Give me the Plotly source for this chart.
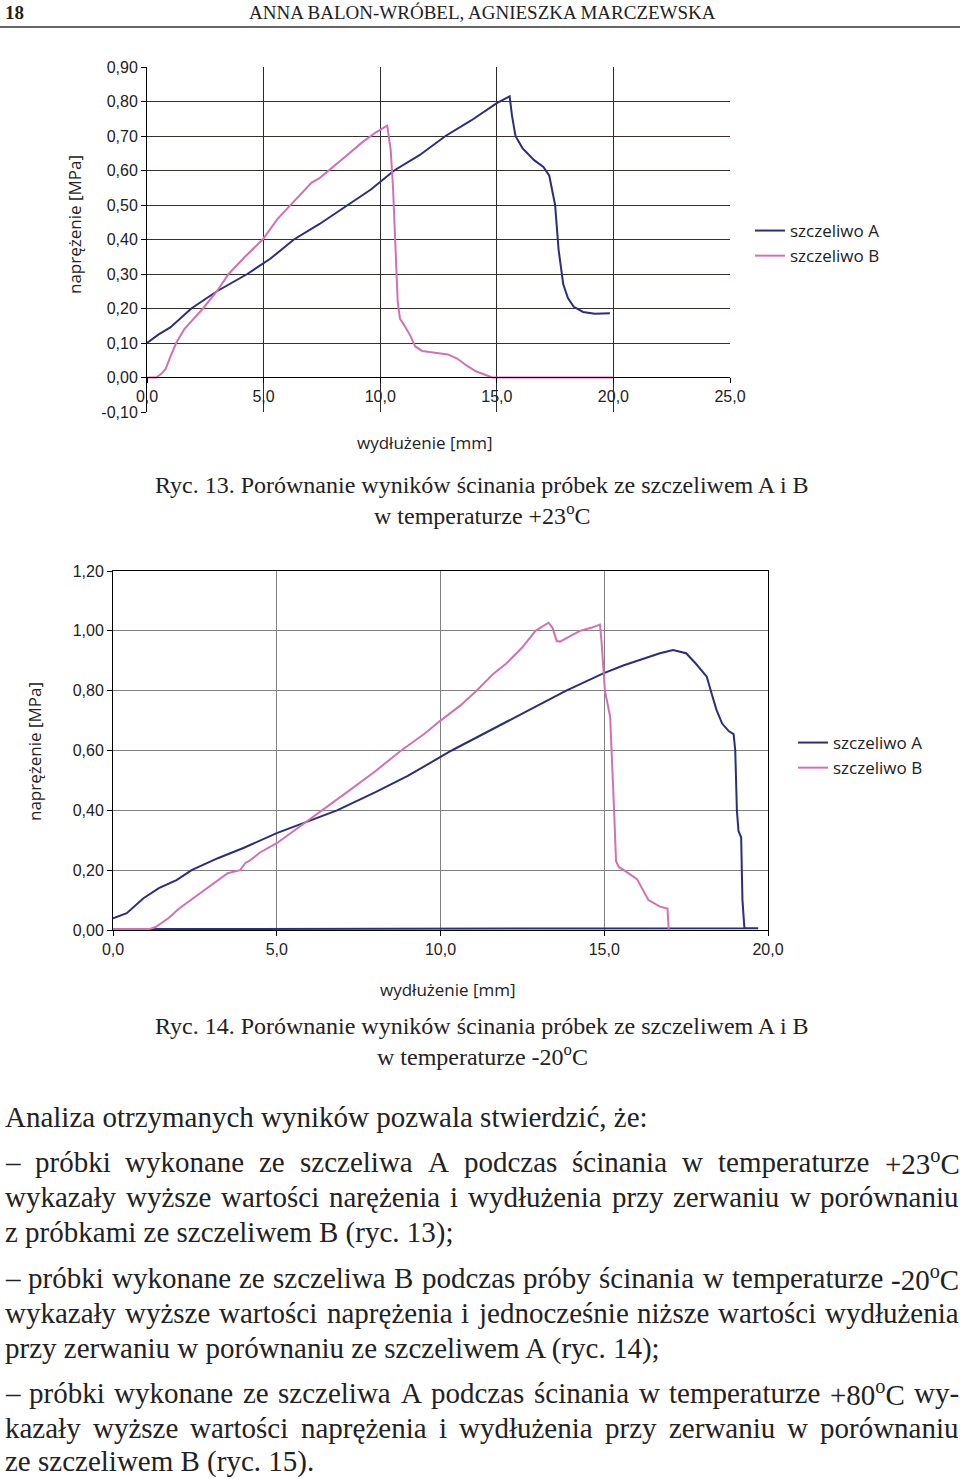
from plotly import graph_objects

# ---- data ----
series_names = ["szczeliwo A", "szczeliwo B"]

# Ryc. 13, +23 C
ryc13_x_a = [0.0, 0.5, 1.0, 1.9, 3.0, 4.3, 5.3, 6.3, 7.4, 8.6, 9.6, 10.6, 11.7, 12.8, 13.9, 15.0, 15.55,
             15.65, 15.8, 16.1, 16.6, 17.0, 17.25, 17.5, 17.65, 17.85, 18.05, 18.3, 18.7, 19.2, 19.85]
ryc13_y_a = [0.10, 0.125, 0.145, 0.20, 0.25, 0.30, 0.345, 0.40, 0.445, 0.50, 0.545, 0.60, 0.645, 0.70, 0.745,
             0.795, 0.815, 0.76, 0.70, 0.665, 0.63, 0.61, 0.585, 0.50, 0.37, 0.27, 0.23, 0.205, 0.19, 0.185, 0.186]
ryc13_x_b = [0.0, 0.4, 0.6, 0.8, 1.0, 1.25, 1.6, 2.0, 2.4, 3.0, 3.5, 4.2, 4.96, 5.6, 6.3, 7.06, 7.4, 7.8, 8.5,
             9.2, 9.8, 10.3, 10.45, 10.55, 10.65, 10.75, 10.85, 11.0, 11.3, 11.5, 11.8, 12.3, 12.9, 13.3, 13.7,
             14.1, 14.5, 14.8, 15.5, 20.0]
ryc13_y_b = [0.0, 0.0, 0.01, 0.025, 0.06, 0.10, 0.14, 0.17, 0.20, 0.25, 0.30, 0.35, 0.40, 0.46, 0.51, 0.565,
             0.578, 0.60, 0.64, 0.68, 0.71, 0.73, 0.66, 0.55, 0.38, 0.22, 0.17, 0.155, 0.12, 0.09, 0.077, 0.072,
             0.067, 0.055, 0.035, 0.018, 0.007, 0.0, 0.0, 0.0]

# Ryc. 14, -20 C
ryc14_x_a = [0.0, 0.42, 0.93, 1.4, 1.94, 2.4, 3.2, 4.0, 5.0, 6.0, 6.84, 8.0, 9.0, 10.34, 11.5, 12.7, 13.84,
             14.97, 15.6, 16.2, 16.7, 17.1, 17.5, 17.8, 18.13, 18.28, 18.43, 18.6, 18.8, 18.95, 19.0, 19.05,
             19.1, 19.18, 19.22, 19.28, 19.7, 0.0]
ryc14_y_a = [0.039, 0.056, 0.106, 0.14, 0.167, 0.20, 0.24, 0.275, 0.324, 0.365, 0.40, 0.46, 0.515, 0.60,
             0.665, 0.735, 0.80, 0.858, 0.885, 0.908, 0.925, 0.936, 0.925, 0.89, 0.847, 0.79, 0.735, 0.69,
             0.665, 0.655, 0.60, 0.40, 0.33, 0.31, 0.10, 0.006, 0.006, 0.003]
ryc14_x_b = [0.0, 1.1, 1.3, 1.7, 2.0, 2.5, 3.0, 3.5, 3.88, 4.05, 4.15, 4.5, 5.0, 5.7, 6.4, 7.2, 8.0, 8.8,
             9.5, 10.0, 10.6, 11.1, 11.6, 12.0, 12.5, 12.9, 13.3, 13.42, 13.55, 13.65, 14.0, 14.26, 14.6,
             14.87, 14.92, 14.97, 15.02, 15.18, 15.25, 15.3, 15.36, 15.45, 15.6, 16.0, 16.35, 16.7, 16.93, 16.97]
ryc14_y_b = [0.003, 0.003, 0.01, 0.04, 0.07, 0.11, 0.15, 0.19, 0.20, 0.225, 0.23, 0.26, 0.29, 0.345, 0.40,
             0.465, 0.53, 0.60, 0.655, 0.70, 0.75, 0.80, 0.855, 0.89, 0.945, 1.0, 1.027, 1.01, 0.966, 0.964,
             0.985, 1.0, 1.01, 1.021, 0.96, 0.86, 0.80, 0.713, 0.55, 0.40, 0.23, 0.21, 0.20, 0.17, 0.10,
             0.078, 0.072, 0.0]

ryc13_yticks = [-0.1, 0.0, 0.1, 0.2, 0.3, 0.4, 0.5, 0.6, 0.7, 0.8, 0.9]
ryc13_ylabels = ["-0,10", "0,00", "0,10", "0,20", "0,30", "0,40", "0,50", "0,60", "0,70", "0,80", "0,90"]
ryc13_xticks = [0, 5, 10, 15, 20, 25]
ryc13_xlabels = ["0,0", "5,0", "10,0", "15,0", "20,0", "25,0"]
ryc14_yticks = [0.0, 0.2, 0.4, 0.6, 0.8, 1.0, 1.2]
ryc14_ylabels = ["0,00", "0,20", "0,40", "0,60", "0,80", "1,00", "1,20"]
ryc14_xticks = [0, 5, 10, 15, 20]
ryc14_xlabels = ["0,0", "5,0", "10,0", "15,0", "20,0"]

body_lines = [
    ("Analiza otrzymanych wyników pozwala stwierdzić, że:", False),
    ("– próbki wykonane ze szczeliwa A podczas ścinania w temperaturze +23<sup>o</sup>C", True),
    ("wykazały wyższe wartości narężenia i wydłużenia przy zerwaniu w porównaniu", True),
    ("z próbkami ze szczeliwem B (ryc. 13);", False),
    ("– próbki wykonane ze szczeliwa B podczas próby ścinania w temperaturze -20<sup>o</sup>C", True),
    ("wykazały wyższe wartości naprężenia i jednocześnie niższe wartości wydłużenia", True),
    ("przy zerwaniu w porównaniu ze szczeliwem A (ryc. 14);", False),
    ("– próbki wykonane ze szczeliwa A podczas ścinania w temperaturze +80<sup>o</sup>C wy-", True),
    ("kazały wyższe wartości naprężenia i wydłużenia  przy zerwaniu w porównaniu", True),
    ("ze szczeliwem B (ryc. 15).", False),
]

W, H = 960, 1479
BLUE = "#2b2d7e"
PINK = "#d271b2"
SERIF = "Liberation Serif"
SANS = "Liberation Sans"
LABEL = "Open Sans"


def px(x):
    return x / W


def py(y):
    return 1 - y / H


# Times New Roman advance widths (Liberation Serif is metric compatible)
TIMES = {' ': 250, 'a': 444, 'b': 500, 'c': 444, 'd': 500, 'e': 444, 'f': 333, 'g': 500, 'h': 500,
         'i': 278, 'j': 278, 'k': 500, 'l': 278, 'm': 778, 'n': 500, 'o': 500, 'p': 500, 'q': 500,
         'r': 333, 's': 389, 't': 278, 'u': 500, 'v': 500, 'w': 722, 'x': 500, 'y': 500, 'z': 444,
         'ą': 444, 'ć': 444, 'ę': 444, 'ł': 278, 'ń': 500, 'ó': 500, 'ś': 389, 'ż': 444, 'ź': 444,
         'A': 722, 'B': 667, 'C': 667, '(': 333, ')': 333, '.': 250, ',': 250, ';': 278, ':': 278,
         '+': 564, '-': 333, '–': 500, '\u00b0': 330}


def word_width(word, size):
    word = word.replace("<sup>o</sup>", "\u00b0")
    return sum(TIMES.get(ch, 500) for ch in word) * size / 1000


def put_text(text, x, y, size, family=SERIF, xanchor="center", angle=0):
    fig.add_annotation(text=text, x=px(x), y=py(y), xref="paper", yref="paper", showarrow=False,
                       xanchor=xanchor, yanchor="middle", textangle=angle, borderpad=0,
                       font=dict(family=family, size=size, color="#222"))


fig = graph_objects.Figure()

# ---- the two charts ----
for xs, ys, name, color, ax, leg in [
    (ryc13_x_a, ryc13_y_a, series_names[0], BLUE, "", "legend"),
    (ryc13_x_b, ryc13_y_b, series_names[1], PINK, "", "legend"),
    (ryc14_x_a, ryc14_y_a, series_names[0], BLUE, "2", "legend2"),
    (ryc14_x_b, ryc14_y_b, series_names[1], PINK, "2", "legend2"),
]:
    fig.add_trace(graph_objects.Scatter(x=xs, y=ys, mode="lines", name=name, legend=leg,
                                        xaxis="x" + ax, yaxis="y" + ax,
                                        line=dict(color=color, width=2)))

tick_font = dict(family=SANS, size=16, color="#222")
axis_common = dict(tickfont=tick_font, showgrid=True, gridwidth=1, zeroline=False, automargin=False,
                   showline=True, linecolor="black", ticks="outside", ticklen=5, tickcolor="black")
fig.update_layout(
    width=W, height=H, autosize=False,
    margin=dict(l=0, r=0, t=0, b=0, pad=0, autoexpand=False),
    paper_bgcolor="white", plot_bgcolor="white",
    xaxis=dict(domain=[px(147), px(730)], range=[0, 25], anchor="free", position=py(377),
               tickvals=ryc13_xticks, ticktext=ryc13_xlabels, gridcolor="#2e2a2a", **axis_common),
    yaxis=dict(domain=[py(412), py(67)], range=[-0.1, 0.9], anchor="x",
               tickvals=ryc13_yticks, ticktext=ryc13_ylabels, gridcolor="#3a2e2c", **axis_common),
    xaxis2=dict(domain=[px(113), px(768)], range=[0, 20], anchor="y2", mirror=True,
                tickvals=ryc14_xticks, ticktext=ryc14_xlabels, gridcolor="#808080", **axis_common),
    yaxis2=dict(domain=[py(930), py(571)], range=[0, 1.2], anchor="x2", mirror=True,
                tickvals=ryc14_yticks, ticktext=ryc14_ylabels, gridcolor="#808080", **axis_common),
    legend=dict(x=px(750), y=py(213), xanchor="left", yanchor="top", bgcolor="rgba(0,0,0,0)",
                font=dict(family=LABEL, size=17, color="#222"), tracegroupgap=0),
    legend2=dict(x=px(793), y=py(725), xanchor="left", yanchor="top", bgcolor="rgba(0,0,0,0)",
                 font=dict(family=LABEL, size=17, color="#222"), tracegroupgap=0),
)

# axis titles
put_text("naprężenie [MPa]", 75, 225, 17, LABEL, angle=-90)
put_text("wydłużenie [mm]", 425, 443, 17, LABEL)
put_text("naprężenie [MPa]", 34, 752, 17, LABEL, angle=-90)
put_text("wydłużenie [mm]", 448, 989, 17, LABEL)

# ---- page header ----
put_text("<b>18</b>", 4, 12, 19, xanchor="left")
put_text("ANNA BALON-WRÓBEL, AGNIESZKA MARCZEWSKA", 482, 12, 19)
fig.add_shape(type="line", xref="paper", yref="paper", x0=0, x1=1, y0=py(27), y1=py(27),
              line=dict(color="#666", width=2))

# ---- captions ----
put_text("Ryc. 13. Porównanie wyników ścinania próbek ze szczeliwem A i B", 482, 485, 24)
put_text("w temperaturze +23<sup>o</sup>C", 482, 514, 24)
put_text("Ryc. 14. Porównanie wyników ścinania próbek ze szczeliwem A i B", 482, 1026, 24)
put_text("w temperaturze -20<sup>o</sup>C", 482, 1055, 24)

# ---- body text, justified like the page ----
body_size = 29
left, right = 4, 958
line_y = [1117, 1162, 1197, 1232, 1278, 1313, 1348, 1393, 1428, 1461]
for (text, justify), y in zip(body_lines, line_y):
    if not justify:
        put_text(text, left, y, body_size, xanchor="left")
        continue
    words = text.split()
    widths = [word_width(w, body_size) for w in words]
    gap = (right - left - sum(widths)) / (len(words) - 1)
    x = left
    for w, ww in zip(words, widths):
        put_text(w, x, y, body_size, xanchor="left")
        x += ww + gap

# the page body has a default 8px margin; drop it so the figure fills the window
fig.write_html("out.html", config={"displayModeBar": False},
               post_script="document.body.style.margin='0px';")
